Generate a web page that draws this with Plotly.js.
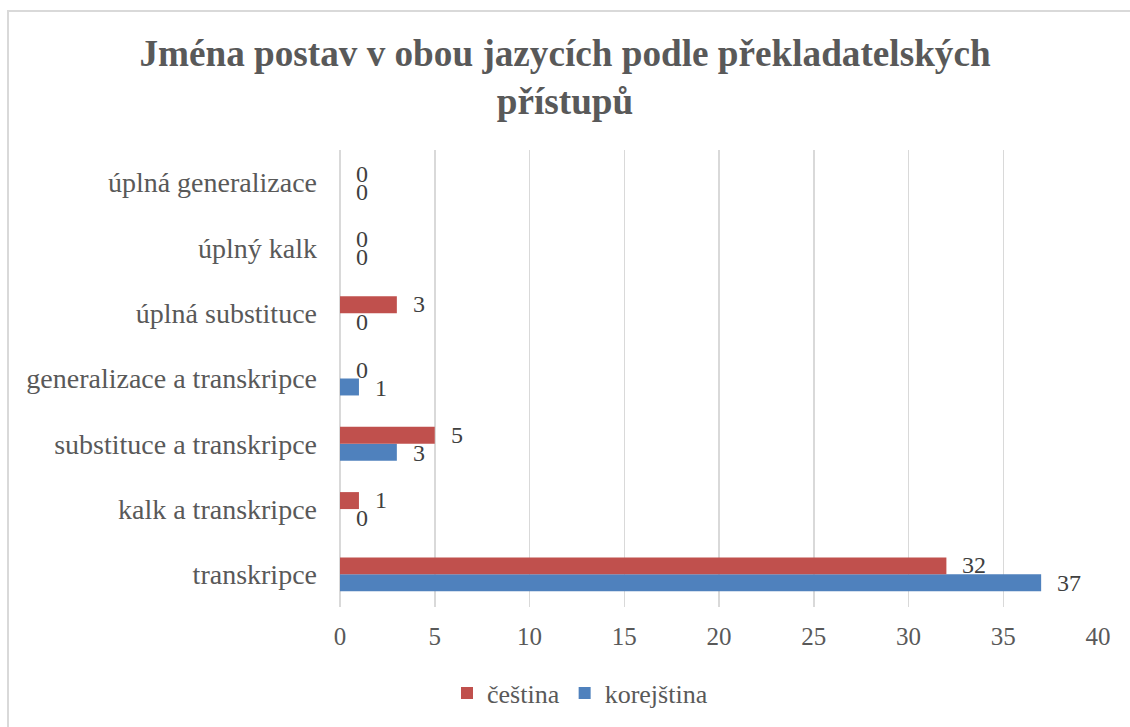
<!DOCTYPE html>
<html>
<head>
<meta charset="utf-8">
<script src="https://cdn.plot.ly/plotly-3.0.1.min.js"></script>
<style>
  html, body { margin: 0; padding: 0; background: #fff; overflow: hidden; }
  #frame { position: absolute; left: 7px; top: 10px; width: 1140px; height: 740px;
           border-top: 2px solid #d9d9d9; border-left: 2px solid #d9d9d9; box-sizing: border-box; }
  #chart { position: absolute; left: 0; top: 0; width: 1130px; height: 727px; }
</style>
</head>
<body>
<div id="frame"></div>
<div id="chart"></div>
<script>
const categories = ["transkripce", "kalk a transkripce", "substituce a transkripce",
  "generalizace a transkripce", "úplná substituce", "úplný kalk", "úplná generalizace"];
const cestina = [32, 1, 5, 0, 3, 0, 0];
const korejstina = [37, 0, 3, 1, 0, 0, 0];
const xTicks = [0, 5, 10, 15, 20, 25, 30, 35, 40];

const FONT = "Liberation Serif, Times New Roman, serif";
const GRAY = "#595959";

const traces = [
  { type: "bar", orientation: "h", name: "korejština", y: categories, x: korejstina,
    marker: { color: "#4F81BD" }, legendrank: 2, hoverinfo: "x+name" },
  { type: "bar", orientation: "h", name: "čeština", y: categories, x: cestina,
    marker: { color: "#C0504D" }, legendrank: 1, hoverinfo: "x+name" }
];

const annotations = [];
function addLabels(vals, yshift) {
  vals.forEach((v, i) => annotations.push({
    x: v, y: categories[i], xref: "x", yref: "y", text: String(v), showarrow: false,
    xanchor: "left", yanchor: "middle", xshift: 14, yshift: yshift,
    font: { family: FONT, size: 24, color: "#404040" }
  }));
}
addLabels(cestina, 9);
addLabels(korejstina, -9);

const layout = {
  width: 1130, height: 727,
  paper_bgcolor: "rgba(0,0,0,0)", plot_bgcolor: "rgba(0,0,0,0)",
  margin: { l: 340, r: 32, t: 150, b: 119 },
  font: { family: FONT, size: 24, color: GRAY },
  title: {
    text: "<b>Jména postav v obou jazycích podle překladatelských<br>přístupů</b>",
    font: { family: FONT, size: 37.2, color: GRAY },
    x: 0.5, xref: "container", xanchor: "center",
    y: 1 - 66 / 727, yref: "container", yanchor: "middle"
  },
  barmode: "group", bargap: 0.48, bargroupgap: 0,
  xaxis: {
    range: [0, 40], tickvals: xTicks, ticktext: xTicks.map(String),
    showgrid: true, gridcolor: "#D9D9D9", gridwidth: 1.5,
    zeroline: true, zerolinecolor: "#D9D9D9", zerolinewidth: 1.5,
    showline: false, ticks: "", ticklabelstandoff: 12,
    tickfont: { family: FONT, size: 25, color: GRAY }, fixedrange: true
  },
  yaxis: {
    type: "category", categoryorder: "array", categoryarray: categories,
    showgrid: false, zeroline: false, showline: false, ticks: "",
    ticklabelstandoff: 22,
    tickfont: { family: FONT, size: 28, color: GRAY }, fixedrange: true
  },
  showlegend: true,
  legend: {
    orientation: "h", x: (580 - 340) / 758, xanchor: "center",
    y: -(693 - 608) / 458, yanchor: "middle",
    font: { family: FONT, size: 26, color: GRAY },
    itemwidth: 30, traceorder: "normal"
  },
  annotations: annotations
};

Plotly.newPlot("chart", traces, layout, { displayModeBar: false, staticPlot: true });
</script>
</body>
</html>
